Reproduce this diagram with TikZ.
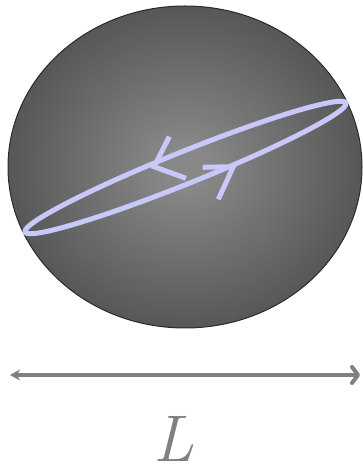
\documentclass[tikz,border=0pt]{standalone}
\usepackage{fontspec}
\usetikzlibrary{arrows.meta,calc}
\definecolor{sphinner}{HTML}{888888}
\definecolor{sphouter}{HTML}{383838}
\definecolor{sphedge}{HTML}{2A2A2A}
\definecolor{orbitlav}{HTML}{C8C8FA}
\definecolor{scalegrey}{HTML}{808080}
\pgfdeclareradialshading{spheregrad}{\pgfpoint{0bp}{0bp}}{%
  color(0bp)=(sphinner); color(3bp)=(sphinner);
  color(39bp)=(sphouter); color(100bp)=(sphouter)}

\begin{document}
\begin{tikzpicture}[
  x=1pt, y=1pt,
  sphere/.style={draw=sphedge, line width=1pt, shading=spheregrad},
  orbit/.style={draw=orbitlav, line width=5pt},
  barb/.style={orbit, line cap=butt, line join=miter},
  scalebar/.style={draw=scalegrey, line width=4pt},
  lbl/.style={text=scalegrey, inner sep=0pt, anchor=base},
]
\useasboundingbox (0,0) rectangle (362,468);

% geometry
\def\tilt{21.9}     % orbit tilt
\coordinate (c) at (185,301);
\coordinate (oc) at (185.5,300.5);

% ---------- sphere ----------
\shade[sphere] (c) ellipse [x radius=177, y radius=161];

% ---------- orbit ----------
\draw[orbit, rotate around={\tilt:(oc)}] (oc) ellipse [x radius=173, y radius=16];

% arrow heads on the orbit
\coordinate (tipA) at (154,301.3);
\coordinate (tipB) at (233.3,301.3);
\draw[barb] ($(tipA)+(15.3,30)$) -- (tipA) -- ($(tipA)+(32,-11.6)$);
\draw[barb] ($(tipB)+(-30.6,-0.6)$) -- (tipB) -- ($(tipB)+(-15,-32.6)$);

% ---------- length scale ----------
\coordinate (sL) at (10,93);
\coordinate (sR) at (360,93);
\draw[scalebar, {Stealth[length=10pt,width=11pt]}-{Straight Barb[length=6pt,width=16pt,round]}]
  (sL) -- (sR);
\node[lbl] (lab) at (174,6) {\fontsize{66}{66}\selectfont\itshape L};

\end{tikzpicture}
\end{document}
